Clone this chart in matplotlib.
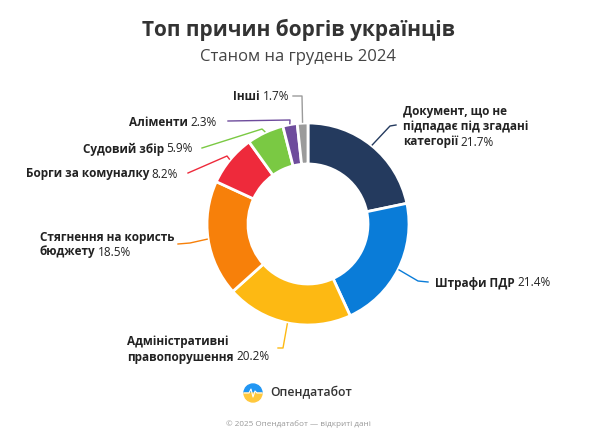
import matplotlib.pyplot as plt
from matplotlib.patches import Wedge
import numpy as np

plt.rcParams['font.family'] = ['Open Sans', 'DejaVu Sans']

# дані
categories = ["Документ, що не\nпідпадає під згадані\nкатегорії", "Штрафи ПДР",
              "Адміністративні\nправопорушення", "Стягнення на користь\nбюджету",
              "Борги за комуналку", "Судовий збір", "Аліменти", "Інші"]
shares = [21.7, 21.4, 20.2, 18.5, 8.2, 5.9, 2.3, 1.7]
colors = ["#243a5e", "#0a7cd8", "#fdb913", "#f7800a", "#ee2a3b", "#7ac943", "#6e4c9c", "#9b9b9b"]

W, H = 600, 429
cx, cy, R = 308, H - 224, 101

# розміщення підписів (пікселі від верху): x, y першого рядка, вирівнювання
label_pos = [(403, 112, "left"), (435, 283, "left"), (127, 342, "left"), (40, 237, "left"),
             (178, 174, "right"), (193, 149, "right"), (217, 123, "right"), (289, 97, "right")]
# лінії-виноски: злам і кінець
leader_pts = [((390, 126), (396, 125)), ((418, 281), (428, 282)), ((283, 348), (278, 348)),
              ((190, 243), (178, 244)), ((227, 156), (188, 173)), ((262, 129), (202, 148)),
              ((290, 120), (228, 121)), ((302, 96), (293, 96))]

fig = plt.figure(figsize=(6, 4.29), dpi=100)
ax = fig.add_axes([0, 0, 1, 1])
wedges, _ = ax.pie(shares, colors=colors, startangle=90, counterclock=False,
                   center=(cx, cy), radius=R,
                   wedgeprops=dict(width=41, edgecolor="white", linewidth=2))
ax.set_xlim(0, W)
ax.set_ylim(0, H)
ax.set_aspect("equal")
ax.axis("off")

renderer = fig.canvas.get_renderer()
fs = 8.5
line_h = 15


def width(t):
    return t.get_window_extent(renderer).width


for w, col, cat, pct, (lx, ly, al), (elb, end) in zip(wedges, colors, categories, shares,
                                                       label_pos, leader_pts):
    a = np.deg2rad((w.theta1 + w.theta2) / 2)
    sx, sy = cx + (R + 1) * np.cos(a), cy + (R + 1) * np.sin(a)
    ax.plot([sx, elb[0], end[0]], [sy, H - elb[1], H - end[1]], color=col, lw=1)

    lines = cat.split("\n")
    for i, ln in enumerate(lines):
        y = H - (ly + i * line_h)
        t = ax.text(lx, y, ln, fontsize=fs, fontweight="bold", color="#222222", va="center")
        if i == len(lines) - 1:
            p = ax.text(lx, y, f"{pct}%", fontsize=fs, color="#222222", va="center")
            wb, wp = width(t), width(p)
            x0 = lx if al == "left" else lx - wb - 2.5 - wp
            t.set_x(x0)
            p.set_x(x0 + wb + 2.5)

ax.text(299, H - 30, "Топ причин боргів українців", fontsize=15, fontweight="bold",
        color="#333333", ha="center", va="center")
ax.text(298, H - 57, "Станом на грудень 2024", fontsize=12, color="#444444",
        ha="center", va="center")

# логотип
lcx, lcy = 253, H - 393
ax.add_patch(Wedge((lcx, lcy), 9, 0, 180, color="#2196f3"))
ax.add_patch(Wedge((lcx, lcy), 9, 180, 360, color="#ffc83d"))
ax.plot([lcx - 9, lcx - 4, lcx - 2, lcx, lcx + 2, lcx + 4, lcx + 9],
        [lcy, lcy, lcy + 4, lcy - 4, lcy + 2, lcy, lcy], color="white", lw=0.8)
ax.text(270, lcy, "Опендатабот", fontsize=8.8, fontweight="semibold", color="#333333", va="center")
ax.text(298, H - 424, "© 2025 Опендатабот — відкриті дані", fontsize=5.9, color="#999999",
        ha="center", va="center")

fig.savefig("out.png", dpi=100, facecolor="white")
